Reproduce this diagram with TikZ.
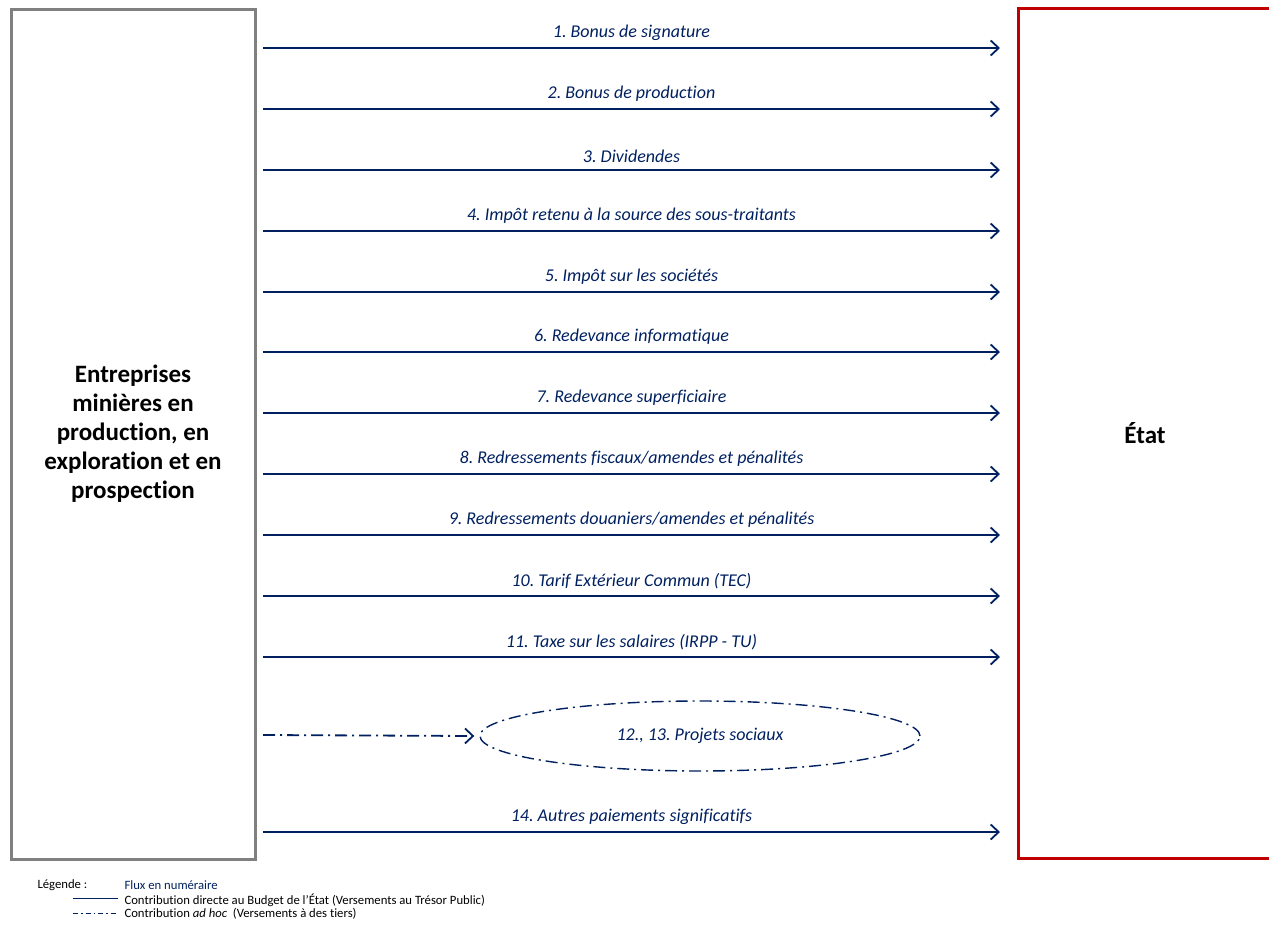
\documentclass[tikz,border=0pt]{standalone}
\usepackage{fontspec}
\setmainfont{Carlito}[Ligatures=NoCommon]
\frenchspacing
\usetikzlibrary{arrows.meta, positioning, calc, shapes.geometric}
\definecolor{fluxblue}{RGB}{0,32,96}
\definecolor{cadregray}{RGB}{128,128,128}
\definecolor{etatred}{RGB}{192,0,0}

\begin{document}
\begin{tikzpicture}[
    x=1pt, y=-1pt,
    box/.style={draw, line width=3pt, minimum height=850pt, inner sep=0pt, align=center, font=\fontsize{25}{29}\selectfont\bfseries},
    fluxarrow/.style={draw=fluxblue, line width=1.8pt, -{Straight Barb[length=8pt, width=15pt, line width=1.8pt]}},
    adhoc/.style={fluxarrow, dash pattern=on 12pt off 5pt on 2pt off 5pt},
    lbl/.style={font=\fontsize{18}{20}\selectfont\itshape, text=fluxblue},
    legend/.style={anchor=west, font=\fontsize{12.7}{14}\selectfont}
]
    \useasboundingbox (0,0) rectangle (1269,929);

    % the two parties
    \node[box, draw=cadregray, minimum width=244pt] (ent) at (133,434) {Entreprises\\minières en\\production, en\\exploration et en\\prospection};
    \node[box, draw=etatred, minimum width=254pt] (etat) at (1145,433) {État};

    % cash flows
    \foreach \y/\txt [count=\i] in {
        48/{1. Bonus de signature},
        109/{2. Bonus de production},
        170/{3. Dividendes},
        231/{4. Impôt retenu à la source des sous-traitants},
        292/{5. Impôt sur les sociétés},
        352/{6. Redevance informatique},
        413/{7. Redevance superficiaire},
        474/{8. Redressements fiscaux/amendes et pénalités},
        535/{9. Redressements douaniers/amendes et pénalités},
        596/{10. Tarif Extérieur Commun (TEC)},
        657/{11. Taxe sur les salaires (IRPP - TU)},
        832/{14. Autres paiements significatifs}}
    {
        \coordinate (d\i) at (263,\y);
        \coordinate (a\i) at (1000,\y);
        \draw[fluxarrow] (d\i) -- node[lbl, above=3pt] {\txt} (a\i);
    }

    % ad hoc contributions
    \node[ellipse, draw=fluxblue, line width=1.4pt, dash pattern=on 12pt off 5pt on 2pt off 5pt,
          minimum width=440pt, minimum height=70pt, lbl] (social) at (700,736) {12., 13. Projets sociaux};
    \coordinate (d13) at (263,735);
    \draw[adhoc] (d13) -- ([xshift=-5pt]social.west);

    % legend
    \node[legend] (leg) at (34,885) {Légende :};
    \node[legend, text=fluxblue] (legflux) at (121,885) {Flux en numéraire};
    \node[legend] (legdirect) at (121,900) {Contribution directe au Budget de l’État (Versements au Trésor Public)};
    \node[legend] (legadhoc) at (121,914) {Contribution \textit{ad hoc}\ \ (Versements à des tiers)};
    \draw[fluxblue, line width=1pt] (73,898) -- (118,898);
    \draw[fluxblue, line width=1pt, dash pattern=on 5pt off 3pt on 1.5pt off 3pt] (73,913) -- (118,913);
\end{tikzpicture}
\end{document}
